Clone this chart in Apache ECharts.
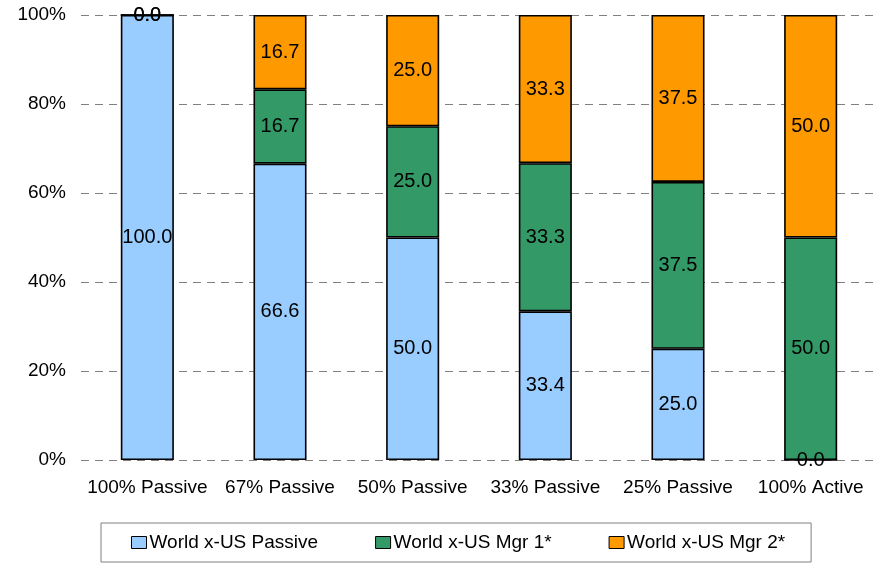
<!DOCTYPE html>
<html>
<head>
<meta charset="utf-8">
<script src="https://cdn.jsdelivr.net/npm/echarts@6/dist/echarts.min.js"></script>
<style>
  html, body { margin: 0; padding: 0; background: #fff; }
  #chart { width: 878px; height: 564px; }
</style>
</head>
<body>
<div id="chart"></div>
<script>
// Allocation mixes, percent of portfolio per manager
const categories = ['100% Passive', '67% Passive', '50% Passive', '33% Passive', '25% Passive', '100% Active'];
const passive = [100.0, 66.6, 50.0, 33.4, 25.0, 0.0];
const mgr1 = [0.0, 16.7, 25.0, 33.3, 37.5, 50.0];
const mgr2 = [0.0, 16.7, 25.0, 33.3, 37.5, 50.0];
const seriesNames = ['World x-US Passive', 'World x-US Mgr 1*', 'World x-US Mgr 2*'];
const seriesColors = ['#99CCFF', '#339966', '#FF9900'];
const yTicks = [0, 20, 40, 60, 80, 100];

const font = 'Liberation Sans, Arial, sans-serif';
const chart = echarts.init(document.getElementById('chart'), null, { renderer: 'canvas' });

function barSeries(name, data, color) {
  return {
    name: name,
    type: 'bar',
    stack: 'total',
    data: data,
    barWidth: '40%',
    itemStyle: { color: color, borderColor: '#000', borderWidth: 1.6 },
    label: {
      show: true,
      position: 'inside',
      color: '#000',
      fontFamily: font,
      fontSize: 20,
      formatter: p => p.value.toFixed(1)
    },
    emphasis: { disabled: true }
  };
}

chart.setOption({
  animation: false,
  backgroundColor: '#fff',
  grid: { left: 81, right: 1, top: 15, bottom: 104, containLabel: false },
  legend: {
    bottom: 2,
    left: 101,
    padding: [10, 26, 10, 30],
    itemGap: 57,
    borderColor: '#808080',
    borderWidth: 1,
    itemWidth: 15,
    itemHeight: 12,
    icon: 'rect',
    textStyle: { fontFamily: font, fontSize: 19, color: '#000', padding: [0, 0, 0, -2] },
    data: seriesNames.map((n, i) => ({
      name: n,
      itemStyle: { color: seriesColors[i], borderColor: '#000', borderWidth: 1 }
    }))
  },
  xAxis: {
    type: 'category',
    data: categories,
    axisLine: { show: false },
    axisTick: { show: false },
    axisLabel: { interval: 0, fontFamily: font, fontSize: 19, color: '#000', margin: 18 }
  },
  yAxis: {
    type: 'value',
    min: yTicks[0],
    max: yTicks[yTicks.length - 1],
    interval: 20,
    axisLine: { show: false },
    axisTick: { show: false },
    axisLabel: { fontFamily: font, fontSize: 19, color: '#000', margin: 15, formatter: v => v + '%' },
    splitLine: { show: true, lineStyle: { color: '#808080', type: [8, 6], width: 1 } }
  },
  series: [
    barSeries(seriesNames[0], passive, seriesColors[0]),
    barSeries(seriesNames[1], mgr1, seriesColors[1]),
    barSeries(seriesNames[2], mgr2, seriesColors[2])
  ]
});
</script>
</body>
</html>
